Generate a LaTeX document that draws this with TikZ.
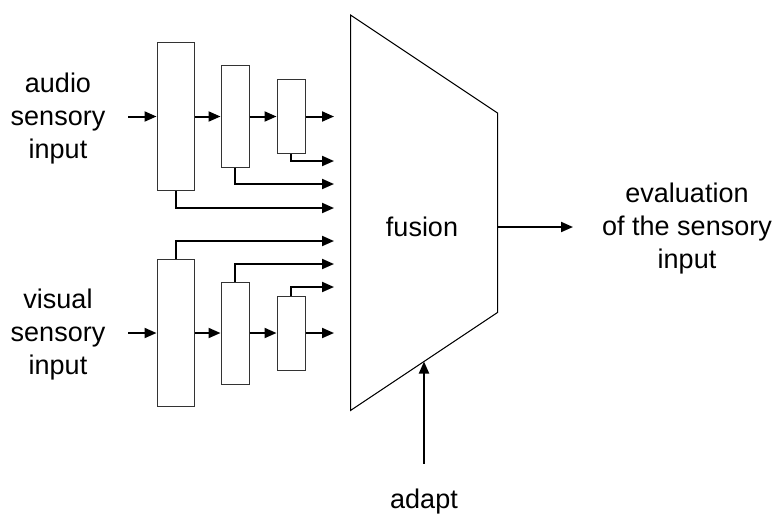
\documentclass[tikz,border=0pt]{standalone}
\usepackage{fontspec}
\setmainfont{Liberation Sans}
\usetikzlibrary{arrows.meta, positioning, calc}

\begin{document}
\begin{tikzpicture}[x=1pt, y=-1pt,
        blk/.style={draw=black!80, line width=1pt, fill=white, inner sep=0pt},
        sig/.style={line width=2pt, -{Triangle[length=12pt, width=10pt]}},
        lbl/.style={align=center, font=\fontsize{27}{33}\selectfont}
      ]
        \useasboundingbox (0,0) rectangle (775,515);
        % fusion block
        \coordinate (f1) at (350.5,15);
        \coordinate (f2) at (497.5,113);
        \coordinate (f3) at (497.5,312.5);
        \coordinate (f4) at (350.5,410.5);
        \draw[line width=1pt] (f1) -- (f2) -- (f3) -- (f4) -- cycle;
        \node[lbl] (fus) at (422,227) {fusion};
        % stages
        \node[blk, minimum width=37pt, minimum height=148pt] (a1) at (175.5,116.5) {};
        \node[blk, minimum width=28pt, minimum height=102pt] (a2) at (235,116.5) {};
        \node[blk, minimum width=28pt, minimum height=74pt] (a3) at (291,116.5) {};
        \node[blk, minimum width=37pt, minimum height=147pt] (v1) at (175.5,333) {};
        \node[blk, minimum width=28pt, minimum height=102pt] (v2) at (235,333) {};
        \node[blk, minimum width=28pt, minimum height=74pt] (v3) at (291,333) {};
        \foreach \n/\y in {a1/208, a2/184, a3/161, v1/241, v2/264, v3/287} { \coordinate (\n e) at (334,\y); }
        \coordinate (ao) at (334,116.5);
        \coordinate (vo) at (334,333);
        \coordinate (ai) at (128,116.5);
        \coordinate (vi) at (128,333);
        % inputs
        \node[lbl] (aud) at (58,119) {audio\\sensory\\input};
        \node[lbl] (vis) at (58,335) {visual\\sensory\\input};
        \draw[sig] (ai) -- (a1);
        \draw[sig] (vi) -- (v1);
        \draw[sig] (a1) -- (a2);
        \draw[sig] (a2) -- (a3);
        \draw[sig] (a3) -- (ao);
        \draw[sig] (v1) -- (v2);
        \draw[sig] (v2) -- (v3);
        \draw[sig] (v3) -- (vo);
        \foreach \n in {a1,a2,a3} { \draw[sig] (\n.south) |- (\n e); }
        \foreach \n in {v1,v2,v3} { \draw[sig] (\n.north) |- (\n e); }
        % output and adaptation
        \coordinate (fo) at (497.5,227);
        \coordinate (fe) at (573,227);
        \draw[sig] (fo) -- (fe);
        \node[lbl] (eval) at (687,229) {evaluation\\of the sensory\\input};
        \node[lbl, anchor=base] (adp) at (424,508.5) {adapt};
        \draw[sig, shorten <=21.5pt] (adp.north) -- ($(f4)!.5!(f3)$);
      \end{tikzpicture}
\end{document}
